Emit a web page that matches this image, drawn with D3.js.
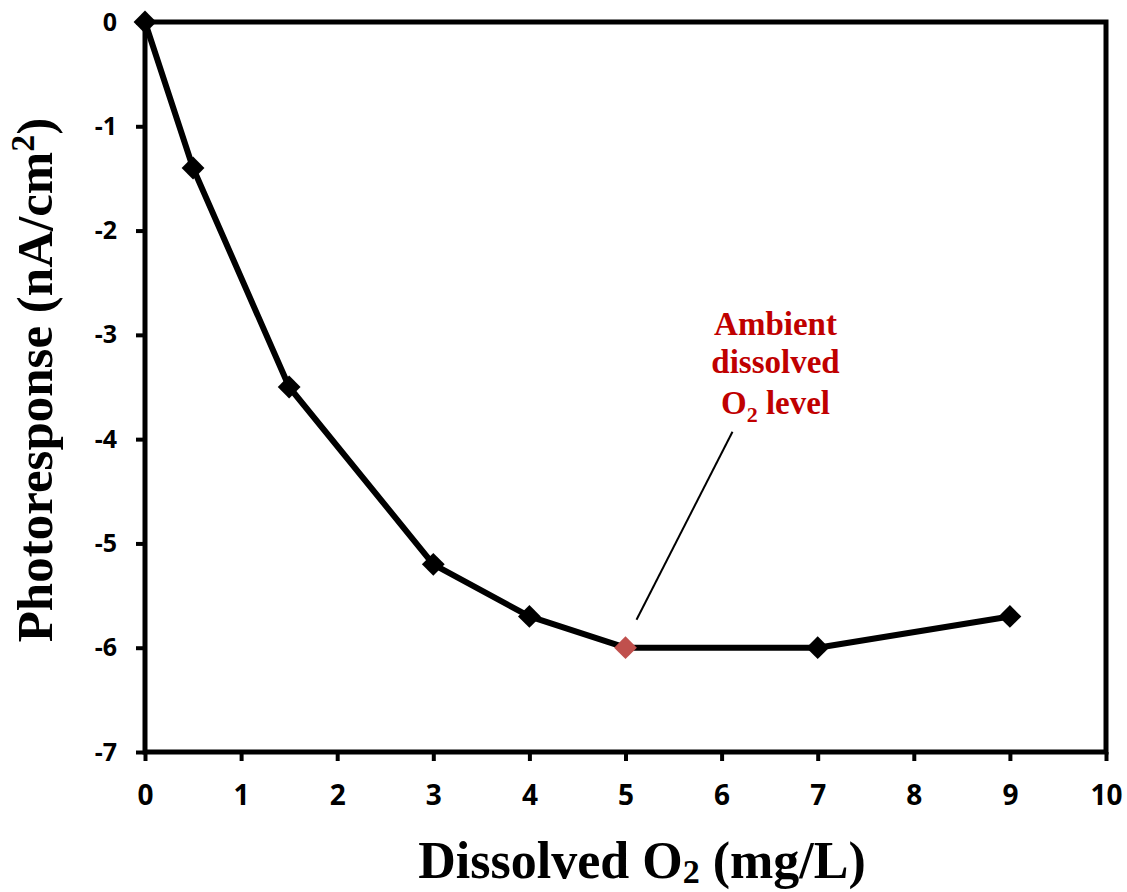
<!DOCTYPE html>
<html>
<head>
<meta charset="utf-8">
<script src="https://cdn.jsdelivr.net/npm/d3@7"></script>
<style>
  body { margin: 0; background: #fff; }
</style>
</head>
<body>
<div id="chart"></div>
<script>
// data
const oxygen = [0, 0.5, 1.5, 3, 4, 5, 7, 9];
const response = [0, -1.4, -3.5, -5.2, -5.7, -6, -6, -5.7];
const ambientIndex = 5;
const xTicks = [0, 1, 2, 3, 4, 5, 6, 7, 8, 9, 10];
const yTicks = [0, -1, -2, -3, -4, -5, -6, -7];

const W = 1127, H = 892;
const margin = { top: 22, right: 21, bottom: 140, left: 145 },
  width = W - margin.left - margin.right,
  height = H - margin.top - margin.bottom;

const svg = d3.select("#chart")
  .append("svg")
  .attr("width", W)
  .attr("height", H)
  .append("g")
  .attr("transform", `translate(${margin.left},${margin.top})`);

const x = d3.scaleLinear().domain([0, 10]).range([0, width]);
const y = d3.scaleLinear().domain([-7, 0]).range([height, 0]);

// frame
svg.append("rect")
  .attr("x", 0).attr("y", 0)
  .attr("width", width).attr("height", height)
  .attr("fill", "none")
  .attr("stroke", "black")
  .attr("stroke-width", 5);

const xAxis = svg.append("g")
  .attr("transform", `translate(0,${height})`)
  .call(d3.axisBottom(x).tickValues(xTicks).tickSize(9).tickPadding(24).tickFormat(d => String(d)))
  .attr("font-family", "Open Sans, sans-serif")
  .attr("font-weight", "bold")
  .attr("font-size", 28);
xAxis.select(".domain").remove();
xAxis.selectAll("line").attr("stroke", "black").attr("stroke-width", 4);

const yAxis = svg.append("g")
  .call(d3.axisLeft(y).tickValues(yTicks).tickSize(9).tickPadding(19).tickFormat(d => String(d)))
  .attr("font-family", "Open Sans, sans-serif")
  .attr("font-weight", "bold")
  .attr("font-size", 25);
yAxis.select(".domain").remove();
yAxis.selectAll("line").attr("stroke", "black").attr("stroke-width", 4);

const pts = oxygen.map((o, i) => ({ o: o, r: response[i], i: i }));

svg.append("path")
  .datum(pts)
  .attr("fill", "none")
  .attr("stroke", "black")
  .attr("stroke-width", 6)
  .attr("stroke-linejoin", "round")
  .attr("d", d3.line().x(d => x(d.o)).y(d => y(d.r)));

const diamond = d3.symbol().type(d3.symbolSquare).size(260);
svg.selectAll(".pt")
  .data(pts)
  .join("path")
  .attr("class", "pt")
  .attr("d", diamond)
  .attr("transform", d => `translate(${x(d.o)},${y(d.r)}) rotate(45)`)
  .attr("fill", d => d.i === ambientIndex ? "#c0504d" : "black");

// annotation
const amb = pts[ambientIndex];
const ax = x(amb.o), ay = y(amb.r);
svg.append("line")
  .attr("x1", ax + 11).attr("y1", ay - 28)
  .attr("x2", ax + 107).attr("y2", ay - 216)
  .attr("stroke", "black")
  .attr("stroke-width", 2);

const note = svg.append("text")
  .attr("text-anchor", "middle")
  .attr("font-family", "Liberation Serif, serif")
  .attr("font-weight", "bold")
  .attr("font-size", 33)
  .attr("fill", "#c00000");
note.append("tspan").attr("x", ax + 150).attr("y", ay - 313).text("Ambient");
note.append("tspan").attr("x", ax + 150).attr("y", ay - 275).text("dissolved");
const l3 = note.append("tspan").attr("x", ax + 150).attr("y", ay - 234);
l3.append("tspan").text("O");
l3.append("tspan").attr("font-size", 22).attr("dy", 8).text("2");
l3.append("tspan").attr("dy", -8).text(" level");

// axis titles
const xt = svg.append("text")
  .attr("x", 497)
  .attr("y", height + 126)
  .attr("text-anchor", "middle")
  .attr("font-family", "Liberation Serif, serif")
  .attr("font-weight", "bold")
  .attr("font-size", 52);
xt.append("tspan").text("Dissolved O");
xt.append("tspan").attr("font-size", 34).attr("dy", 5).text("2");
xt.append("tspan").attr("dy", -5).text(" (mg/L)");

const yt = svg.append("text")
  .attr("transform", `translate(-93,358) rotate(-90)`)
  .attr("text-anchor", "middle")
  .attr("font-family", "Liberation Serif, serif")
  .attr("font-weight", "bold")
  .attr("font-size", 51);
yt.append("tspan").text("Photoresponse (nA/cm");
yt.append("tspan").attr("font-size", 34).attr("dy", -18).text("2");
yt.append("tspan").attr("dy", 18).text(")");
</script>
</body>
</html>
